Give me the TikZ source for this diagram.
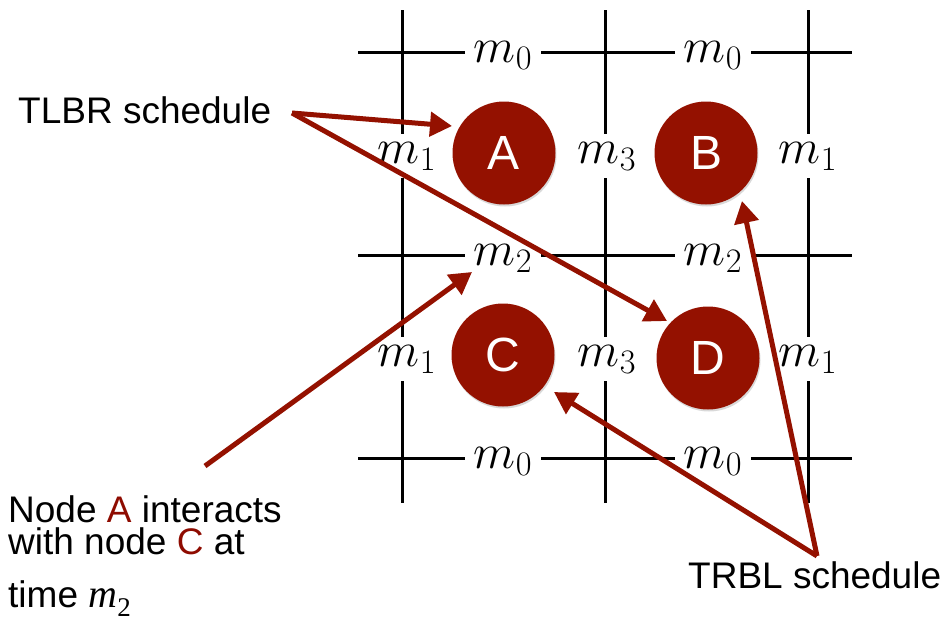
\RequirePackage{fix-cm}
\documentclass[tikz,border=0pt]{standalone}
\usepackage{fontspec}
\setmainfont{Liberation Sans}
\newfontfamily\timesfont{Liberation Serif}
\usetikzlibrary{arrows.meta,shadows}
\definecolor{nodered}{HTML}{941100}
\definecolor{txtred}{HTML}{8E0B00}
\begin{document}
\begin{tikzpicture}[x=1pt,y=-1pt,
  gridline/.style={line width=3pt,black},
  lbl/.style={fill=white,inner xsep=9pt,inner ysep=8pt,anchor=base,font=\fontsize{49}{52}\selectfont},
  circ/.style={circle,fill=nodered,minimum size=103pt,inner sep=0pt,text=white,
    font=\fontsize{48}{52}\selectfont,
    drop shadow={opacity=0.3,shadow xshift=1pt,shadow yshift=-2pt}},
  arr/.style={draw=nodered,line width=5pt,-{Triangle[length=22pt,width=24pt]}},
  caption/.style={font=\fontsize{37}{44}\selectfont,inner sep=0pt,anchor=base west}]
\useasboundingbox (0,0) rectangle (944,624);
% grid
\draw[gridline] (358,52) -- (852,52);
\draw[gridline] (358,255) -- (852,255);
\draw[gridline] (358,458) -- (852,458);
\draw[gridline] (402,10) -- (402,503);
\draw[gridline] (605,10) -- (605,503);
\draw[gridline] (808,10) -- (808,503);
% labels
\node[lbl] (t0a) at (503,62) {$m_0$};
\node[lbl] (t0b) at (713,62) {$m_0$};
\node[lbl] (r1a) at (407,163) {$m_1$};
\node[lbl] (r1b) at (607,163) {$m_3$};
\node[lbl] (r1c) at (808,163) {$m_1$};
\node[lbl] (m2a) at (503,265) {$m_2$};
\node[lbl] (m2b) at (713,265) {$m_2$};
\node[lbl] (r2a) at (407,366) {$m_1$};
\node[lbl] (r2b) at (607,366) {$m_3$};
\node[lbl] (r2c) at (808,366) {$m_1$};
\node[lbl] (b0a) at (503,468) {$m_0$};
\node[lbl] (b0b) at (713,468) {$m_0$};
% circles
\node[circ] (A) at (504,153) {A};
\node[circ] (B) at (706,153) {B};
\node[circ] (C) at (503,355) {C};
\node[circ] (D) at (708,358) {D};
% captions
\node[caption] (tlbr) at (18,123) {TLBR schedule};
\node[caption] (trbl) at (688,588) {TRBL schedule};
\node[caption,align=left,font=\fontsize{37}{32}\selectfont] (note) at (8,607)
  {Node \textcolor{txtred}{A} interacts\\with node \textcolor{txtred}{C} at\\[21pt]time {\timesfont\itshape\fontsize{40}{44}\selectfont m}{\timesfont\fontsize{27}{30}\selectfont\raisebox{-9pt}{2}}};
% connector ends
\coordinate (tlbrO) at (292,113);
\coordinate (trblO) at (817,556);
\coordinate (noteO) at (205,466);
\coordinate (tipA) at (452,126);
\coordinate (tipD) at (667,321);
\coordinate (tipB) at (742,201);
\coordinate (tipC) at (554,392);
\coordinate (tipM) at (472,272);
% arrows
\draw[arr] (tlbrO) -- (tipA);
\draw[arr] (tlbrO) -- (tipD);
\draw[arr] (trblO) -- (tipB);
\draw[arr] (trblO) -- (tipC);
\draw[arr] (noteO) -- (tipM);
\end{tikzpicture}
\end{document}
